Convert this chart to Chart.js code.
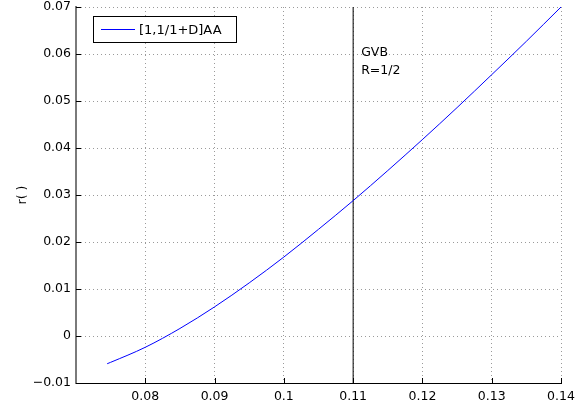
<!DOCTYPE html>
<html>
<head>
<meta charset="utf-8">
<script src="https://cdn.jsdelivr.net/npm/chart.js@4/dist/chart.umd.min.js"></script>
<style>
html,body{margin:0;padding:0;background:#fff;}
#wrap{width:587px;height:409px;position:relative;}
</style>
</head>
<body>
<div id="wrap"><canvas id="c" width="587" height="409"></canvas></div>
<script>
// ---- data ----
const xValues = [0.0745, 0.075, 0.08, 0.085, 0.09, 0.095, 0.10, 0.105, 0.11, 0.115, 0.12, 0.125, 0.13, 0.135, 0.14];
const rValues = [-0.0059, -0.0056, -0.0024, 0.0016, 0.0062, 0.0113, 0.0168, 0.0227, 0.0288, 0.0352, 0.0418, 0.0486, 0.0556, 0.0627, 0.0700];
const seriesName = '[1,1/1+D]AA';
const markerX = 0.11;
const markerLabel = ['GVB', 'R=1/2'];
const yTitle = 'r( )';
const xTickValues = [0.08, 0.09, 0.10, 0.11, 0.12, 0.13, 0.14];
const yTickValues = [-0.01, 0, 0.01, 0.02, 0.03, 0.04, 0.05, 0.06, 0.07];

const FONT = 'DejaVu Sans';
const fmt = v => {
  const s = String(parseFloat(v.toFixed(2)));
  return s.replace('-', '\u2212');
};

const curve = xValues.map((x, i) => ({x: x, y: rValues[i]}));

const overlay = {
  id: 'overlay',
  afterDraw(chart) {
    const ctx = chart.ctx;
    const xs = chart.scales.x, ys = chart.scales.y;
    const a = chart.chartArea;
    ctx.save();
    // inward tick marks
    ctx.strokeStyle = '#000';
    ctx.lineWidth = 1;
    xTickValues.forEach(v => {
      const px = Math.round(xs.getPixelForValue(v)) + 0.5;
      ctx.beginPath(); ctx.moveTo(px, a.bottom); ctx.lineTo(px, a.bottom - 5); ctx.stroke();
    });
    yTickValues.forEach(v => {
      const py = Math.round(ys.getPixelForValue(v)) + 0.5;
      ctx.beginPath(); ctx.moveTo(a.left, py); ctx.lineTo(a.left + 5, py); ctx.stroke();
    });
    // annotation
    ctx.fillStyle = '#000';
    ctx.font = '12.5px "' + FONT + '"';
    ctx.textBaseline = 'alphabetic';
    ctx.textAlign = 'left';
    const ax = xs.getPixelForValue(markerX) + 8;
    ctx.fillText(markerLabel[0], ax, 56);
    ctx.fillText(markerLabel[1], ax, 73.5);
    // legend
    const lx = 93, ly = 16, lw = 143, lh = 26;
    ctx.fillStyle = '#fff';
    ctx.fillRect(lx, ly, lw, lh);
    ctx.strokeStyle = '#000';
    ctx.lineWidth = 1;
    ctx.strokeRect(lx + 0.5, ly + 0.5, lw, lh);
    ctx.strokeStyle = '#0000ff';
    ctx.beginPath(); ctx.moveTo(101, 29.5); ctx.lineTo(135, 29.5); ctx.stroke();
    ctx.fillStyle = '#000';
    ctx.font = '13px "' + FONT + '"';
    ctx.fillText(seriesName, 139, 34);
    ctx.restore();
  }
};

new Chart(document.getElementById('c'), {
  type: 'scatter',
  data: {
    datasets: [
      {
        label: seriesName,
        data: curve,
        showLine: true,
        borderColor: '#0000ff',
        borderWidth: 1,
        pointRadius: 0,
        cubicInterpolationMode: 'monotone',
        fill: false
      },
      {
        label: 'GVB',
        data: [{x: markerX, y: -0.01}, {x: markerX, y: 0.07}],
        showLine: true,
        borderColor: '#000',
        borderWidth: 1,
        pointRadius: 0,
        fill: false
      }
    ]
  },
  options: {
    responsive: false,
    animation: false,
    devicePixelRatio: 1,
    layout: {padding: {left: 0, top: 7, right: 26, bottom: 0}},
    plugins: {legend: {display: false}, tooltip: {enabled: false}},
    scales: {
      x: {
        type: 'linear',
        min: 0.07,
        max: 0.14,
        afterFit: s => { s.height = 26; s.paddingLeft = 0; s.paddingRight = 0; },
        afterBuildTicks: s => { s.ticks = [0.07].concat(xTickValues).map(v => ({value: v})); },
        ticks: {
          padding: 6,
          color: '#000',
          font: {family: FONT, size: 12.5},
          maxRotation: 0,
          autoSkip: false,
          callback: v => (Math.abs(v - 0.07) < 1e-9 ? '' : fmt(v))
        },
        grid: {
          drawTicks: false,
          color: ctx => (ctx.tick && Math.abs(ctx.tick.value - 0.07) < 1e-9 ? 'rgba(0,0,0,0)' : '#9a9a9a'),
          lineWidth: 1
        },
        border: {display: true, color: '#000', width: 1, dash: [1, 3], dashOffset: 0},
      },
      y: {
        type: 'linear',
        min: -0.01,
        max: 0.07,
        afterFit: s => { s.width = 76; s.paddingTop = 0; s.paddingBottom = 0; },
        afterBuildTicks: s => { s.ticks = yTickValues.map(v => ({value: v})); },
        ticks: {
          padding: 5,
          color: '#000',
          font: {family: FONT, size: 12.5},
          autoSkip: false,
          callback: v => fmt(v)
        },
        grid: {
          drawTicks: false,
          color: ctx => (ctx.tick && Math.abs(ctx.tick.value + 0.01) < 1e-9 ? 'rgba(0,0,0,0)' : '#9a9a9a'),
          lineWidth: 1
        },
        border: {display: true, color: '#7a7a7a', width: 2, dash: [1, 3]},
        title: {display: true, text: yTitle, color: '#000', font: {family: FONT, size: 12.5}, padding: {top: 15, bottom: 0}}
      }
    }
  },
  plugins: [overlay]
});
</script>
</body>
</html>
